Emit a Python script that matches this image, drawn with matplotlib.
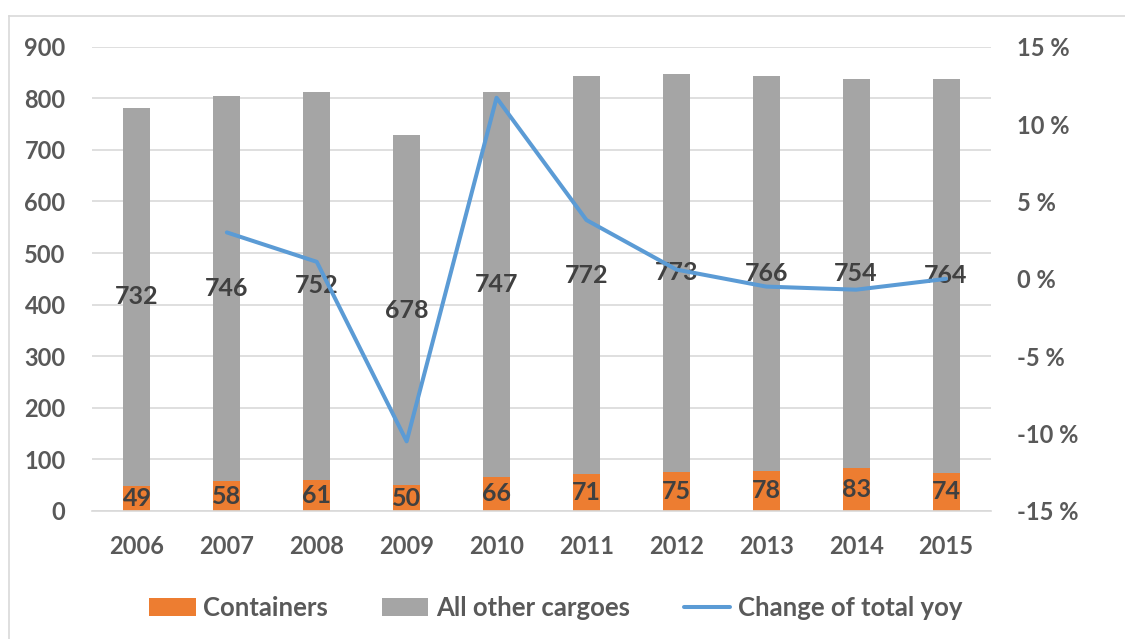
import numpy as np
import matplotlib
matplotlib.use("Agg")
import matplotlib.pyplot as plt
from matplotlib.lines import Line2D
from matplotlib.ticker import FuncFormatter

years = ["2006", "2007", "2008", "2009", "2010", "2011", "2012", "2013", "2014", "2015"]
containers = [49, 58, 61, 50, 66, 71, 75, 78, 83, 74]
other_cargoes = [732, 746, 752, 678, 747, 772, 773, 766, 754, 764]
change_yoy = [np.nan, 3.0, 1.1, -10.5, 11.7, 3.8, 0.6, -0.5, -0.7, 0.0]

plt.rcParams['font.family'] = ['Lato', 'DejaVu Sans']

ORANGE = "#ED7D31"
GRAY = "#A5A5A5"
BLUE = "#5B9BD5"
TICK = "#595959"
LABEL = "#404040"
FS = 17

fig = plt.figure(figsize=(11.25, 6.39), dpi=100)
ax = fig.add_axes([92/1125, 1-511/639, (991-92)/1125, (511-46.7)/639])
ax2 = ax.twinx()

x = np.arange(len(years))
w = 0.3
b1 = ax.bar(x, containers, w, color=ORANGE, label="Containers", zorder=2)
b2 = ax.bar(x, other_cargoes, w, bottom=containers, color=GRAY, label="All other cargoes", zorder=2)

for xi, c, o in zip(x, containers, other_cargoes):
    ax.text(xi, c/2, str(c), ha="center", va="center", fontsize=FS+1, fontweight="bold",
            color=LABEL, zorder=5)
    ax.text(xi, c + o/2, str(o), ha="center", va="center", fontsize=FS+1, fontweight="bold",
            color=LABEL, zorder=5)

ln, = ax2.plot(x, change_yoy, color=BLUE, lw=2.9, label="Change of total yoy",
               solid_joinstyle="round", solid_capstyle="round")

ax.set_xlim(-0.5, len(years) - 0.5)
ax.set_ylim(0, 900)
ax.set_yticks(range(0, 901, 100))
ax2.set_ylim(-15, 15)
ax2.set_yticks(range(-15, 16, 5))
ax2.yaxis.set_major_formatter(FuncFormatter(lambda v, p: f"{int(v)} %"))

ax.set_xticks(x)
ax.set_xticklabels(years)
ax.grid(axis="y", color="#D9D9D9", lw=1.2, zorder=0)
ax.set_axisbelow(True)

for a in (ax, ax2):
    for s in a.spines.values():
        s.set_visible(False)
    a.tick_params(length=0, labelsize=FS, colors=TICK)
ax.spines["bottom"].set_visible(True)
ax.spines["bottom"].set_color("#D9D9D9")
ax.spines["bottom"].set_linewidth(1.2)
ax.tick_params(axis="y", pad=19)
ax.tick_params(axis="x", pad=17)
ax2.tick_params(axis="y", pad=18.5)
for t in ax.get_xticklabels() + ax.get_yticklabels() + ax2.get_yticklabels():
    t.set_fontweight("bold")

leg = fig.legend(handles=[b1, b2, ln], loc="center", bbox_to_anchor=(556/1125, 1-608/639),
                 ncol=3, frameon=False, fontsize=18.5, handlelength=1.8, handleheight=0.7,
                 columnspacing=2.1, handletextpad=0.3)
for t in leg.get_texts():
    t.set_color(TICK)
    t.set_fontweight("bold")

# outer chart frame
fig.add_artist(Line2D([9/1125, 1], [1-16/639, 1-16/639], color="#D9D9D9", lw=1.2))
fig.add_artist(Line2D([9/1125, 9/1125], [0, 1-16/639], color="#D9D9D9", lw=1.2))

fig.savefig("out.png", dpi=100)
